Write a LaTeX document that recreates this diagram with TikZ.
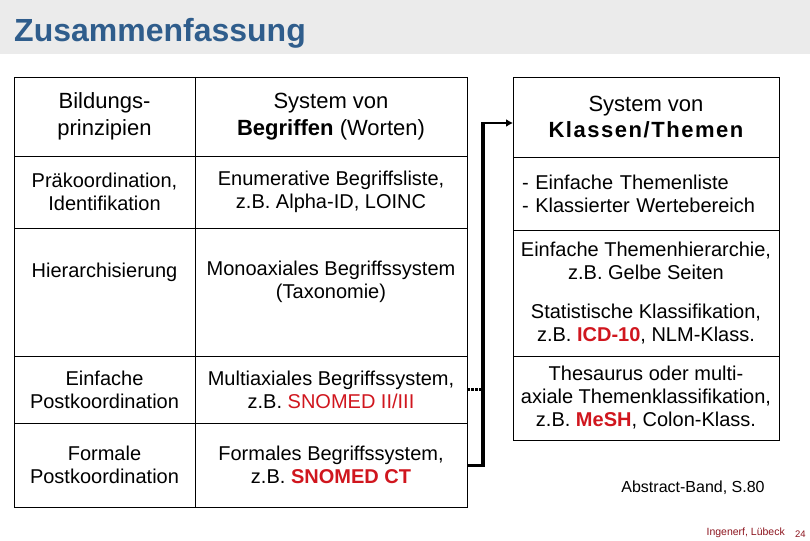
\documentclass[tikz,border=0pt]{standalone}
\usepackage{fontspec}
\setmainfont{Liberation Sans}
\usetikzlibrary{calc,arrows.meta}
\definecolor{bargray}{RGB}{235,235,235}
\definecolor{titleblue}{RGB}{47,93,140}
\definecolor{hlred}{RGB}{208,22,30}
\definecolor{footred}{RGB}{140,20,30}
\tikzset{
    cell/.style={draw, line width=0.8pt, anchor=north west, inner sep=0pt,
        outer sep=0pt, align=center, font=\fontsize{20}{23}\selectfont},
    headcell/.style={cell, font=\fontsize{22}{26.5}\selectfont},
    txt/.style={align=center, inner sep=0pt, font=\fontsize{20}{23}\selectfont},
}
\newcommand{\hl}[1]{\textcolor{hlred}{#1}}

\begin{document}
\begin{tikzpicture}[x=1pt,y=-1pt]
        \useasboundingbox (0,0) rectangle (810,540);
        \fill[bargray] (0,0) rectangle (810,54);
        \node[anchor=base west, inner sep=0pt, text=titleblue,
            font=\fontsize{32}{36}\selectfont\bfseries] (title) at (14,42) {Zusammenfassung};
        % left table
        \node[headcell, minimum width=181, minimum height=79] (a1) at (14,77) {Bildungs-\\prinzipien};
        \node[headcell, minimum width=272, minimum height=79] (b1) at (195,77) {System von\\\textbf{Begriffen} (Worten)};
        \node[cell, minimum width=181, minimum height=72] (a2) at (14,156) {Pr\"akoordination,\\Identifikation};
        \node[cell, minimum width=272, minimum height=72] (b2) at (195,156) {Enumerative Begriffsliste,\\z.B. Alpha-ID, LOINC};
        \node[cell, minimum width=181, minimum height=128] (a3) at (14,228) {};
        \node[cell, minimum width=272, minimum height=128] (b3) at (195,228) {};
        \node[txt] (a3t) at ([yshift=20pt]a3.center) {Hierarchisierung};
        \node[txt] (b3t) at ([yshift=10pt]b3.center) {Monoaxiales Begriffssystem\\(Taxonomie)};
        \node[cell, minimum width=181, minimum height=67] (a4) at (14,356) {Einfache\\Postkoordination};
        \node[cell, minimum width=272, minimum height=67] (b4) at (195,356) {Multiaxiales Begriffssystem,\\z.B. \hl{SNOMED II/III}};
        \node[cell, minimum width=181, minimum height=84] (a5) at (14,423) {Formale\\Postkoordination};
        \node[cell, minimum width=272, minimum height=84] (b5) at (195,423) {Formales Begriffssystem,\\z.B. \hl{\textbf{SNOMED CT}}};
        % right table
        \node[headcell, minimum width=266, minimum height=80] (c1) at (513,77)
            {System von\\{\bfseries\addfontfeature{LetterSpace=7}Klassen/Themen}};
        \node[cell, minimum width=266, minimum height=73, text width=248, inner xsep=9pt,
            align=left] (c2) at (513,157) {- Einfache Themenliste\\- Klassierter Wertebereich};
        \node[cell, minimum width=266, minimum height=126] (c3) at (513,230)
            {Einfache Themenhierarchie,\\z.B. Gelbe Seiten\\[16pt]Statistische Klassifikation,\\z.B. \hl{\textbf{ICD-10}}, NLM-Klass.};
        \node[cell, minimum width=266, minimum height=84] (c4) at (513,356)
            {Thesaurus oder multi-\\axiale Themenklassifikation,\\z.B. \hl{\textbf{MeSH}}, Colon-Klass.};
        % connector
        \coordinate (knee) at (483,123);
        \draw[line width=3pt] (b5.east) -- (b5.east -| knee);
        \draw[line width=4pt] ([yshift=-1.5pt]b5.east -| knee) -- ([yshift=1pt]knee);
        \draw[line width=3pt, dash pattern=on 2.5pt off 1.5pt] (b4.east) -- (b4.east -| knee);
        \draw[line width=2pt, -{Latex[length=7pt,width=8pt]}] (knee) -- (knee -| c1.west);
        % source and footer
        \node[anchor=base, inner sep=0pt, font=\fontsize{16}{19}\selectfont] (src) at (693,492) {Abstract-Band, S.80};
        \node[anchor=base east, inner sep=0pt, text=footred, font=\fontsize{10.5}{12}\selectfont] (auth) at (785,535) {Ingenerf, L\"ubeck};
        \node[anchor=base west, inner sep=0pt, text=footred, font=\fontsize{9.5}{11}\selectfont] (page) at (795,537) {24};
    \end{tikzpicture}
\end{document}
